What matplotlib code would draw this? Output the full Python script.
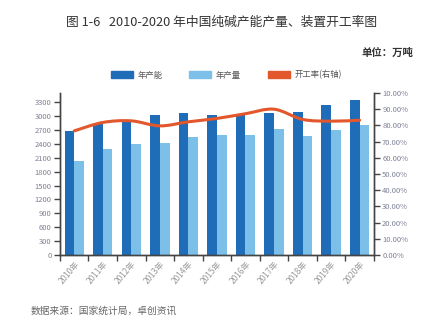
import matplotlib
matplotlib.use("Agg")
import matplotlib.pyplot as plt
import numpy as np
from matplotlib.path import Path
from matplotlib.patches import PathPatch, Patch

plt.rcParams["font.family"] = ["Noto Sans CJK SC", "DejaVu Sans"]

years = ["2010年", "2011年", "2012年", "2013年", "2014年", "2015年",
         "2016年", "2017年", "2018年", "2019年", "2020年"]
capacity = [2680, 2830, 2900, 3020, 3060, 3020, 3040, 3060, 3100, 3250, 3340]
output = [2030, 2300, 2390, 2430, 2540, 2600, 2600, 2730, 2580, 2690, 2800]
rate = [0.766, 0.818, 0.828, 0.797, 0.822, 0.843, 0.872, 0.900, 0.837, 0.826, 0.832]

c_cap = "#1f6db8"
c_out = "#7cc0ea"
c_rate = "#e2572b"
c_tick = "#7f8196"
c_axis = "#444444"

fig = plt.figure(figsize=(4.44, 3.24), dpi=100)
ax = fig.add_axes([0.135, 0.213, 0.707, 0.500])
ax2 = ax.twinx()

x = np.arange(len(years))
w = 0.34
ax.bar(x - w / 2, capacity, width=w, color=c_cap, zorder=2)
ax.bar(x + w / 2, output, width=w, color=c_out, zorder=2)

ax.set_xlim(-0.5, len(years) - 0.5)
ax.set_ylim(0, 3500)
ax.set_yticks(np.arange(0, 3301, 300))
ax.set_xticks(x)
ax.set_xticklabels(years, rotation=50, ha="right", rotation_mode="anchor")
ax.set_xticks(np.arange(-0.5, len(years)), minor=True)
ax.tick_params(axis="x", which="major", length=0, labelsize=6, labelcolor="#999999", pad=3)
ax.tick_params(axis="x", which="minor", length=4, width=1, color=c_axis, direction="out")
ax.tick_params(axis="y", length=4, width=1, color=c_axis, labelsize=5.5,
               labelcolor=c_tick, pad=2)

ax2.set_ylim(0, 1.0)
ax2.set_yticks(np.arange(0, 1.01, 0.1))
labels = [f"{v * 100:.2f}%" for v in np.arange(0, 1.01, 0.1)]
labels[-1] = "10.00%"
ax2.set_yticklabels(labels)
ax2.tick_params(axis="y", length=4, width=1, color=c_axis, labelsize=5.5,
                labelcolor=c_tick, pad=2)

for a in (ax, ax2):
    a.spines["top"].set_visible(False)
    for s in ("left", "right", "bottom"):
        a.spines[s].set_color(c_axis)
        a.spines[s].set_linewidth(1)

# smooth line through the rate points (Catmull-Rom as cubic Bezier segments)
px = x.astype(float)
py = np.array(rate)
verts = [(px[0], py[0])]
codes = [Path.MOVETO]
n = len(px)
for i in range(n - 1):
    p0 = (px[max(i - 1, 0)], py[max(i - 1, 0)])
    p1 = (px[i], py[i])
    p2 = (px[i + 1], py[i + 1])
    p3 = (px[min(i + 2, n - 1)], py[min(i + 2, n - 1)])
    c1 = (p1[0] + (p2[0] - p0[0]) / 6, p1[1] + (p2[1] - p0[1]) / 6)
    c2 = (p2[0] - (p3[0] - p1[0]) / 6, p2[1] - (p3[1] - p1[1]) / 6)
    verts += [c1, c2, p2]
    codes += [Path.CURVE4] * 3
ax2.add_patch(PathPatch(Path(verts, codes), facecolor="none", edgecolor=c_rate,
                        linewidth=2.2, zorder=3, capstyle="round"))

handles = [Patch(color=c_cap, label="年产能"),
           Patch(color=c_out, label="年产量"),
           Patch(color=c_rate, label="开工率(右轴)")]
fig.legend(handles=handles, loc="center", bbox_to_anchor=(0.51, 0.768), ncol=3,
           frameon=False, fontsize=6, handlelength=2.6, handleheight=0.9,
           columnspacing=3.2, handletextpad=0.6, labelcolor="#555555")

fig.text(0.500, 0.932, "图 1-6   2010-2020 年中国纯碱产能产量、装置开工率图",
         ha="center", va="center", fontsize=9.2, color="#333333")
fig.text(0.930, 0.836, "单位：万吨", ha="right", va="center", fontsize=7.5,
         color="#333333", fontweight="bold")
fig.text(0.068, 0.040, "数据来源：国家统计局，卓创资讯", ha="left", va="center",
         fontsize=7, color="#666666")

fig.savefig("out.png", dpi=100)
